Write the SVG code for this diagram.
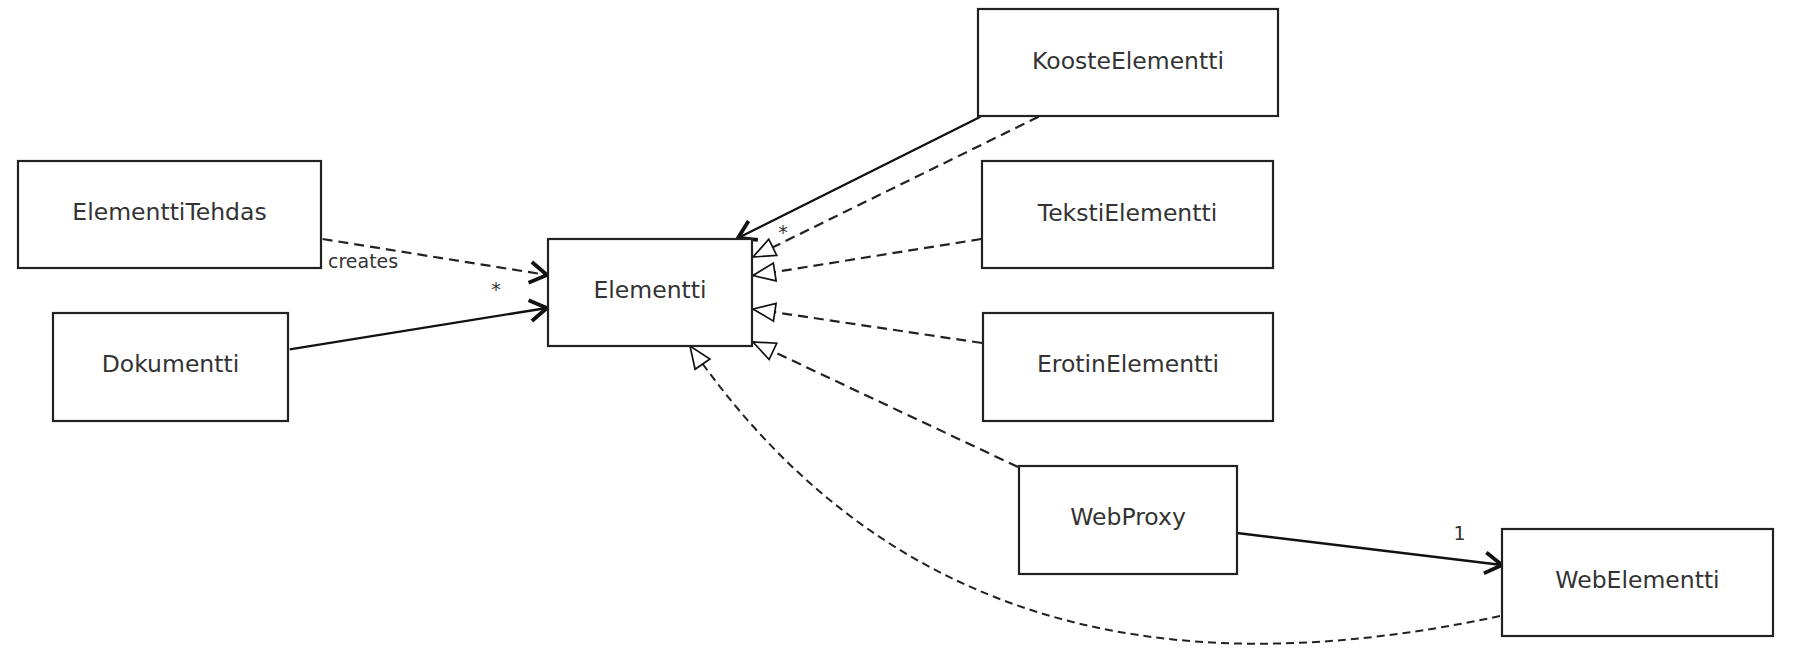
<svg xmlns="http://www.w3.org/2000/svg" width="1798" height="654" viewBox="0 0 1798 654">
<style>
.box{fill:#fff;stroke:#222;stroke-width:2.2}
.lbl{font-family:"DejaVu Sans",sans-serif;font-size:23.5px;fill:#333;text-anchor:middle}
.small{font-family:"DejaVu Sans",sans-serif;font-size:19px;fill:#333}
.solid{fill:none;stroke:#111;stroke-width:2.3}
.dash{fill:none;stroke:#222;stroke-width:2.2;stroke-dasharray:10 6}
.dash2{fill:none;stroke:#222;stroke-width:2;stroke-dasharray:8 5}
</style>
<defs>
<marker id="open" markerUnits="userSpaceOnUse" markerWidth="24" markerHeight="26" refX="20" refY="13" orient="auto" overflow="visible">
<path d="M3,2.5 L20,13 L3,23.5" fill="none" stroke="#111" stroke-width="3.8" stroke-dasharray="none" stroke-linejoin="miter"/>
</marker>
<marker id="tri" markerUnits="userSpaceOnUse" markerWidth="24" markerHeight="20" refX="23" refY="10" orient="auto" overflow="visible">
<path d="M1,1 L23,10 L1,19 Z" fill="#fff" stroke="#111" stroke-width="1.7" stroke-dasharray="none"/>
</marker>
</defs>
<g id="connectors">
<path class="dash" d="M322.6,239 L547,275" marker-end="url(#open)"/>
<text class="small" x="328" y="268">creates</text>
<text class="small" x="496" y="296" text-anchor="middle">*</text>
<path class="solid" d="M289.7,349.3 L547,308" marker-end="url(#open)"/>
<path class="solid" d="M980.5,116.7 L738,238" marker-end="url(#open)"/>
<text class="small" x="783" y="239" text-anchor="middle">*</text>
<path class="dash" d="M1038.7,116.7 L753,257" marker-end="url(#tri)"/>
<path class="dash" d="M981.3,239 L753,275.5" marker-end="url(#tri)"/>
<path class="dash" d="M982,343 L753,309" marker-end="url(#tri)"/>
<path class="dash" d="M1018,467 L753,342" marker-end="url(#tri)"/>
<path class="solid" d="M1237,533 L1502,565" marker-end="url(#open)"/>
<text class="small" x="1459.5" y="539.5" text-anchor="middle">1</text>
<path class="dash2" d="M1500,616 C1200,680 900,650 690,346" marker-end="url(#tri)"/>
</g>
<g id="ElementtiTehdas"><rect class="box" x="18" y="161" width="303" height="107"/><text class="lbl" x="169.5" y="220">ElementtiTehdas</text></g>
<g id="Dokumentti"><rect class="box" x="53" y="313" width="235" height="108"/><text class="lbl" x="170.5" y="372">Dokumentti</text></g>
<g id="Elementti"><rect class="box" x="548" y="239" width="204" height="107"/><text class="lbl" x="650" y="298">Elementti</text></g>
<g id="KoosteElementti"><rect class="box" x="978" y="9" width="300" height="107"/><text class="lbl" x="1128" y="68.5">KoosteElementti</text></g>
<g id="TekstiElementti"><rect class="box" x="982" y="161" width="291" height="107"/><text class="lbl" x="1127.5" y="220.5">TekstiElementti</text></g>
<g id="ErotinElementti"><rect class="box" x="983" y="313" width="290" height="108"/><text class="lbl" x="1128" y="372">ErotinElementti</text></g>
<g id="WebProxy"><rect class="box" x="1019" y="466" width="218" height="108"/><text class="lbl" x="1128" y="525">WebProxy</text></g>
<g id="WebElementti"><rect class="box" x="1502" y="529" width="271" height="107"/><text class="lbl" x="1637.5" y="588">WebElementti</text></g>
</svg>
